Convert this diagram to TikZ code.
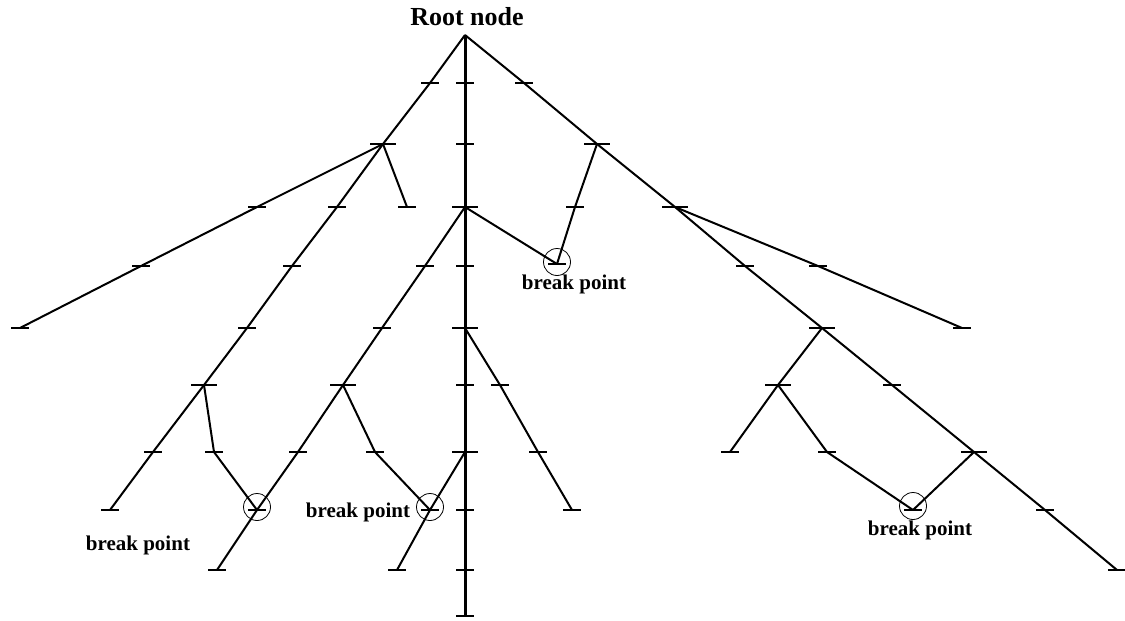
\documentclass[tikz,border=0pt]{standalone}
\usepackage{fontspec}
\setmainfont{Liberation Serif}
\begin{document}
\begin{tikzpicture}[x=1pt,y=-1pt,
    branch/.style={line width=2pt},
    trunk/.style={line width=3pt},
    bar/.style={line width=2.6pt},
    ring/.style={draw,circle,line width=0.8pt,minimum size=27pt,inner sep=0pt},
    tag/.style={font=\fontsize{21}{23}\selectfont\bfseries}]
      \useasboundingbox (0,0) rectangle (1125,621);
      % points on the trunk
      \coordinate (t0) at (465,35);
      \coordinate (t1) at (465,83);
      \coordinate (t2) at (465,144);
      \coordinate (t3) at (465,207);
      \coordinate (t4) at (465,266);
      \coordinate (t5) at (465,328);
      \coordinate (t6) at (465,385);
      \coordinate (t7) at (465,452);
      \coordinate (t8) at (465,510);
      \coordinate (t9) at (465,570);
      \coordinate (t10) at (465,616);
      % left main branch and its children
      \coordinate (a1) at (430,83);
      \coordinate (a2) at (383,144);
      \coordinate (a3) at (337,207);
      \coordinate (a4) at (292,266);
      \coordinate (a5) at (247,328);
      \coordinate (a6) at (204,385);
      \coordinate (a7) at (153,452);
      \coordinate (a8) at (110,510);
      \coordinate (b1) at (257,207);
      \coordinate (b2) at (141,266);
      \coordinate (b3) at (20,328);
      \coordinate (c1) at (407,207);
      \coordinate (d1) at (214,452);
      % branches off the trunk
      \coordinate (e1) at (425,266);
      \coordinate (e2) at (382,328);
      \coordinate (e3) at (343,385);
      \coordinate (e4) at (298,452);
      \coordinate (e5) at (217,570);
      \coordinate (f1) at (375,452);
      \coordinate (g1) at (397,570);
      \coordinate (h1) at (500,385);
      \coordinate (h2) at (538,452);
      \coordinate (h3) at (572,510);
      % right main branch and its children
      \coordinate (r1) at (524,83);
      \coordinate (r2) at (597,144);
      \coordinate (r3) at (675,207);
      \coordinate (r4) at (745,266);
      \coordinate (r5) at (822,328);
      \coordinate (r6) at (892,385);
      \coordinate (r7) at (974,452);
      \coordinate (r8) at (1045,510);
      \coordinate (r9) at (1117,570);
      \coordinate (s1) at (575,207);
      \coordinate (u1) at (818,266);
      \coordinate (u2) at (962,328);
      \coordinate (v1) at (778,385);
      \coordinate (v2) at (730,452);
      \coordinate (w1) at (827,452);
      % break points
      \coordinate (bp1) at (257,510);
      \coordinate (bp2) at (430,510);
      \coordinate (bp3) at (557,264);
      \coordinate (bp4) at (913,510);

      % trunk
      \draw[trunk] (t0) -- (t10);
      % branches
      \draw[branch] (t0) -- (a1) -- (a2) -- (a3) -- (a4) -- (a5) -- (a6) -- (a7) -- (a8);
      \draw[branch] (a2) -- (b1) -- (b2) -- (b3);
      \draw[branch] (a2) -- (c1);
      \draw[branch] (a6) -- (d1) -- (bp1);
      \draw[branch] (t3) -- (e1) -- (e2) -- (e3) -- (e4) -- (bp1) -- (e5);
      \draw[branch] (e3) -- (f1) -- (bp2);
      \draw[branch] (t7) -- (bp2) -- (g1);
      \draw[branch] (t5) -- (h1) -- (h2) -- (h3);
      \draw[branch] (t3) -- (bp3);
      \draw[branch] (t0) -- (r1) -- (r2) -- (r3) -- (r4) -- (r5) -- (r6) -- (r7) -- (r8) -- (r9);
      \draw[branch] (r2) -- (s1) -- (bp3);
      \draw[branch] (r3) -- (u1) -- (u2);
      \draw[branch] (r5) -- (v1) -- (v2);
      \draw[branch] (v1) -- (w1) -- (bp4);
      \draw[branch] (r7) -- (bp4);

      % routine for ticks
      \foreach \p in {t1,t2,t4,t6,t8,t9,t10,a1,a3,a4,a5,a7,a8,b1,b2,b3,c1,d1,
                      e1,e2,e4,e5,f1,g1,h1,h2,h3,r1,r4,r6,r8,r9,s1,u1,u2,v2,w1,
                      bp1,bp2,bp3,bp4}
        \draw[bar] ([xshift=-9pt]\p) -- ([xshift=9pt]\p);
      % wider ticks where a branch splits
      \foreach \p in {t3,t5,t7,a2,a6,e3,r2,r3,r5,r7,v1}
        \draw[bar] ([xshift=-13pt]\p) -- ([xshift=13pt]\p);

      % circles round the break points
      \node[ring] (ring1) at ([yshift=3pt]bp1) {};
      \node[ring] (ring2) at ([yshift=3pt]bp2) {};
      \node[ring] (ring3) at ([yshift=2pt]bp3) {};
      \node[ring] (ring4) at ([yshift=4pt]bp4) {};

      % labels
      \node[font=\fontsize{26}{28}\selectfont\bfseries] (rootlabel) at (467,17) {Root node};
      \node[tag] (label1) at (138,545) {break point};
      \node[tag] (label2) at (358,512) {break point};
      \node[tag] (label3) at (574,284) {break point};
      \node[tag] (label4) at (920,530) {break point};
\end{tikzpicture}
\end{document}
